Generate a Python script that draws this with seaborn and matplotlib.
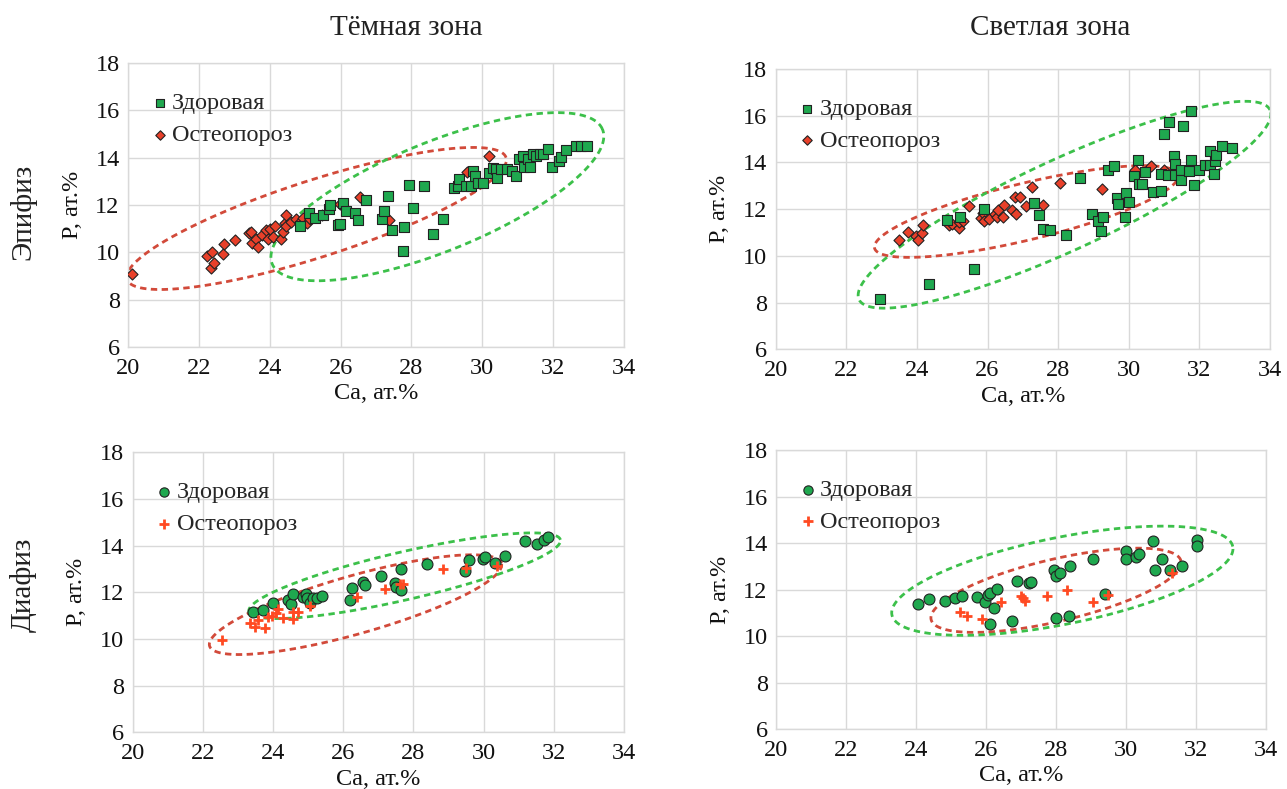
import numpy as np
import pandas as pd
import matplotlib
matplotlib.use("Agg")
import matplotlib.pyplot as plt
import seaborn as sns

# ---------------- data ----------------
# Epiphysis, dark zone
epi_dark_h_ca = [24.85, 25.11, 25.27, 25.5, 25.67, 25.71, 25.92, 25.97, 26.08, 26.16, 26.4, 26.49, 26.72,
                 27.17, 27.21, 27.34, 27.45, 27.76, 27.78, 27.94, 28.04, 28.34, 28.6, 28.9, 29.19, 29.3,
                 29.35, 29.54, 29.68, 29.75, 29.8, 29.87, 30.01, 30.2, 30.29, 30.38, 30.41, 30.52, 30.69,
                 30.85, 30.95, 31.04, 31.14, 31.18, 31.3, 31.34, 31.42, 31.51, 31.62, 31.72, 31.84, 31.96,
                 32.15, 32.22, 32.36, 32.64, 32.78, 32.94]
epi_dark_h_p = [11.11, 11.68, 11.46, 11.56, 11.82, 11.99, 11.15, 11.18, 12.1, 11.75, 11.68, 11.35, 12.21,
                11.39, 11.75, 12.38, 10.94, 10.06, 11.08, 12.85, 11.86, 12.8, 10.76, 11.39, 12.7, 12.8,
                13.08, 12.8, 12.8, 13.44, 13.23, 12.92, 12.92, 13.37, 13.58, 13.51, 13.15, 13.51, 13.51,
                13.44, 13.23, 13.93, 14.07, 13.62, 13.93, 13.62, 14.14, 14.07, 14.14, 14.14, 14.35, 13.62,
                13.86, 14.04, 14.31, 14.49, 14.49, 14.49]
epi_dark_o_ca = [20.1, 22.23, 22.36, 22.33, 22.43, 22.67, 22.7, 23.01, 23.42, 23.48, 23.51, 23.61, 23.67,
                 23.77, 23.88, 23.95, 24.0, 24.08, 24.14, 24.33, 24.36, 24.42, 24.45, 24.47, 24.61, 24.75,
                 24.85, 24.94, 25.06, 25.13, 25.46, 25.99, 26.55, 27.36, 29.56, 30.2]
epi_dark_o_p = [9.07, 9.85, 10.01, 9.35, 9.56, 9.94, 10.37, 10.52, 10.8, 10.86, 10.38, 10.58, 10.23,
                10.73, 10.94, 10.55, 10.97, 10.66, 11.11, 10.58, 10.86, 11.25, 11.58, 11.11, 11.3, 11.39,
                11.28, 11.46, 11.25, 11.39, 11.58, 12.03, 12.34, 11.38, 13.41, 14.07]

# Epiphysis, light zone
epi_light_h_ca = [22.96, 24.35, 25.63, 24.85, 25.22, 25.89, 27.32, 27.46, 27.56, 27.77, 28.21, 28.62, 28.97,
                  29.14, 29.2, 29.28, 29.42, 29.59, 29.68, 29.69, 29.88, 29.91, 30.0, 30.16, 30.27, 30.3,
                  30.38, 30.45, 30.68, 30.92, 30.9, 30.99, 31.15, 31.27, 31.3, 31.11, 31.32, 31.49, 31.49,
                  31.54, 31.7, 31.75, 31.76, 31.84, 31.98, 32.17, 32.31, 32.31, 32.41, 32.44, 32.48, 32.64,
                  32.92]
epi_light_h_p = [8.17, 8.8, 9.44, 11.55, 11.66, 12.02, 12.26, 11.76, 11.15, 11.09, 10.88, 13.32, 11.81,
                 11.48, 11.05, 11.65, 13.69, 13.83, 12.48, 12.23, 11.66, 12.69, 12.3, 13.43, 14.09, 13.07,
                 13.07, 13.57, 12.73, 12.76, 13.5, 15.23, 15.72, 14.26, 13.94, 13.47, 13.47, 13.69, 13.23,
                 15.57, 13.62, 14.11, 16.21, 13.02, 13.66, 13.9, 13.9, 14.51, 13.5, 14.07, 14.3, 14.71,
                 14.64]
epi_light_o_ca = [23.49, 23.74, 23.98, 24.02, 24.15, 24.17, 24.92, 24.98, 25.2, 25.2, 25.31, 25.48, 25.81,
                  25.86, 25.91, 26.03, 26.22, 26.26, 26.31, 26.43, 26.48, 26.69, 26.82, 26.78, 26.92, 27.08,
                  27.25, 27.57, 28.05, 29.25, 30.19, 30.64, 30.99]
epi_light_o_p = [10.67, 11.02, 10.87, 10.7, 10.98, 11.31, 11.31, 11.38, 11.19, 11.45, 11.51, 12.15, 11.62,
                 11.83, 11.48, 11.59, 11.79, 11.66, 11.95, 11.65, 12.16, 11.95, 11.81, 12.52, 12.52, 12.15,
                 12.93, 12.19, 13.12, 12.87, 13.69, 13.83, 13.69]

# Diaphysis, dark zone
dia_dark_h_ca = [23.44, 23.71, 24.01, 24.44, 24.5, 24.56, 24.85, 24.94, 24.96, 25.06, 25.15, 25.26, 25.39,
                 26.19, 26.24, 26.55, 26.62, 27.08, 27.47, 27.5, 27.64, 27.65, 28.39, 29.47, 29.59, 29.97,
                 30.04, 30.32, 30.62, 31.17, 31.53, 31.72, 31.84]
dia_dark_h_p = [11.17, 11.24, 11.53, 11.67, 11.49, 11.93, 11.81, 11.93, 11.77, 11.53, 11.74, 11.77, 11.86,
                11.67, 12.2, 12.46, 12.31, 12.7, 12.41, 12.24, 12.1, 13.0, 13.21, 12.91, 13.39, 13.43,
                13.5, 13.24, 13.56, 14.2, 14.06, 14.24, 14.39]
dia_dark_o_ca = [22.54, 23.35, 23.49, 23.58, 23.76, 23.87, 23.96, 24.08, 24.15, 24.27, 24.58, 24.58, 24.72,
                 25.05, 26.4, 27.19, 27.62, 27.69, 28.83, 29.49, 30.37]
dia_dark_o_p = [9.96, 10.67, 10.53, 10.81, 10.46, 10.96, 11.0, 11.1, 11.27, 10.89, 10.84, 11.17, 11.17,
                11.41, 11.81, 12.14, 12.36, 12.36, 12.99, 13.03, 13.13]

# Diaphysis, light zone
dia_light_h_ca = [24.06, 24.36, 24.84, 25.1, 25.3, 25.73, 25.97, 26.05, 26.11, 26.11, 26.24, 26.3, 26.74,
                  26.89, 27.24, 27.29, 27.93, 28.0, 28.1, 28.0, 28.36, 28.4, 29.05, 29.41, 30.0, 30.0,
                  30.29, 30.36, 30.76, 30.84, 31.02, 31.26, 31.59, 32.02, 32.02]
dia_light_h_p = [11.37, 11.6, 11.5, 11.63, 11.73, 11.67, 11.48, 11.77, 11.87, 10.52, 11.22, 12.04, 10.66,
                 12.37, 12.27, 12.32, 12.85, 12.59, 12.71, 10.79, 10.86, 13.02, 13.31, 11.81, 13.67, 13.32,
                 13.42, 13.54, 14.07, 12.85, 13.32, 12.85, 13.02, 14.12, 13.88]
dia_light_o_ca = [25.26, 25.46, 25.88, 26.43, 27.0, 27.05, 27.11, 27.74, 28.31, 29.07, 29.48, 31.3]
dia_light_o_p = [11.05, 10.86, 10.72, 11.48, 11.74, 11.63, 11.51, 11.73, 11.99, 11.45, 11.76, 12.71]

# hand-drawn group ellipses: centre (Ca, P) and two conjugate half-axes (data units)
ell_epi_dark_o = [25.32, 11.43, 5.35, 2.57, -0.32, 1.55]
ell_epi_dark_h = [28.73, 12.35, 4.66, 2.85, -0.60, 2.12]
ell_epi_light_o = [27.10, 11.90, 4.30, 1.57, -0.19, 1.18]
ell_epi_light_h = [28.18, 12.19, 5.82, 4.06, -0.54, 1.77]
ell_dia_dark_o = [26.35, 11.47, 4.16, 1.77, -0.225, 1.20]
ell_dia_dark_h = [27.75, 12.71, 4.44, 1.54, -0.153, 1.00]
ell_dia_light_o = [28.00, 11.97, 3.57, 1.26, -0.20, 1.30]
ell_dia_light_h = [28.18, 12.38, 4.87, 1.47, -0.244, 1.83]

x_ticks = [20, 22, 24, 26, 28, 30, 32, 34]
y_ticks = [6, 8, 10, 12, 14, 16, 18]
col_titles = ["Тёмная зона", "Светлая зона"]
row_titles = ["Эпифиз", "Диафиз"]
lbl_h = "Здоровая"
lbl_o = "Остеопороз"

# ---------------- style ----------------
sns.set_theme(style="white")
plt.rcParams['font.family'] = ['Liberation Serif', 'DejaVu Serif']

GREEN = "#1fa84f"
RED = "#e8402a"
PLUS = "#ff4a22"
ELL_G = "#3cc04a"
ELL_R = "#d24a3a"
GRID = "#d9d9d9"

fig = plt.figure(figsize=(12.87, 7.89), dpi=100)

rects = [
    [0.0995, 0.5602, 0.3854, 0.3600],
    [0.6027, 0.5573, 0.3841, 0.3552],
    [0.1031, 0.0719, 0.3817, 0.3548],
    [0.6030, 0.0758, 0.3807, 0.3539],
]

panels = [
    (epi_dark_h_ca, epi_dark_h_p, epi_dark_o_ca, epi_dark_o_p, ell_epi_dark_h, ell_epi_dark_o, 'epi'),
    (epi_light_h_ca, epi_light_h_p, epi_light_o_ca, epi_light_o_p, ell_epi_light_h, ell_epi_light_o, 'epi'),
    (dia_dark_h_ca, dia_dark_h_p, dia_dark_o_ca, dia_dark_o_p, ell_dia_dark_h, ell_dia_dark_o, 'dia'),
    (dia_light_h_ca, dia_light_h_p, dia_light_o_ca, dia_light_o_p, ell_dia_light_h, ell_dia_light_o, 'dia'),
]


def draw_ellipse(ax, e, color):
    t = np.linspace(0, 2 * np.pi, 300)
    cx, cy, ux, uy, vx, vy = e
    xs = cx + ux * np.cos(t) + vx * np.sin(t)
    ys = cy + uy * np.cos(t) + vy * np.sin(t)
    ax.plot(xs, ys, color=color, lw=2.0, linestyle=(0, (2.3, 1.6)), zorder=2,
            dash_capstyle='butt')


for rect, (hx, hy, ox, oy, eh, eo, kind) in zip(rects, panels):
    ax = fig.add_axes(rect)
    draw_ellipse(ax, eo, ELL_R)
    draw_ellipse(ax, eh, ELL_G)
    dfh = pd.DataFrame({"Ca": hx, "P": hy})
    dfo = pd.DataFrame({"Ca": ox, "P": oy})
    if kind == 'epi':
        sns.scatterplot(data=dfo, x="Ca", y="P", ax=ax, marker='D', s=32, color=RED,
                        edgecolor='#222222', linewidth=0.8, label=lbl_o, zorder=3)
        sns.scatterplot(data=dfh, x="Ca", y="P", ax=ax, marker='s', s=58, color=GREEN,
                        edgecolor='#222222', linewidth=0.8, label=lbl_h, zorder=4)
    else:
        sns.scatterplot(data=dfh, x="Ca", y="P", ax=ax, marker='o', s=62, color=GREEN,
                        edgecolor='#222222', linewidth=0.8, label=lbl_h, zorder=3)
        sns.scatterplot(data=dfo, x="Ca", y="P", ax=ax, marker='+', s=60, color=PLUS,
                        linewidth=2.0, label=lbl_o, zorder=4)
    ax.set_xlim(20, 34)
    ax.set_ylim(6, 18)
    ax.set_xticks(x_ticks)
    ax.set_yticks(y_ticks)
    ax.grid(True, color=GRID, lw=1.0, zorder=0)
    ax.set_axisbelow(True)
    for sp in ax.spines.values():
        sp.set_color(GRID)
        sp.set_linewidth(1.0)
    ax.tick_params(axis='both', labelsize=17.5, length=0, colors='#111111')
    ax.tick_params(axis='x', pad=8)
    ax.tick_params(axis='y', pad=6)
    ax.set_xlabel("Ca, ат.%", fontsize=17.5, labelpad=3, color='#111111')
    ax.set_ylabel("P, ат.%", fontsize=17.5, labelpad=9, color='#111111')
    handles, labels = ax.get_legend_handles_labels()
    order = [labels.index(lbl_h), labels.index(lbl_o)]
    ax.legend([handles[i] for i in order], [labels[i] for i in order],
              loc='upper left', bbox_to_anchor=(0.02, 0.94), frameon=False,
              fontsize=17.5, handletextpad=0.1, handlelength=0.8, borderpad=0.0,
              labelspacing=0.4, markerscale=0.85)

fig.text(0.316, 0.964, col_titles[0], ha='center', va='center', fontsize=21, color='#222222')
fig.text(0.816, 0.964, col_titles[1], ha='center', va='center', fontsize=21, color='#222222')
fig.text(0.018, 0.732, row_titles[0], ha='center', va='center', rotation=90, fontsize=21, color='#222222')
fig.text(0.018, 0.259, row_titles[1], ha='center', va='center', rotation=90, fontsize=21, color='#222222')

fig.savefig("out.png", dpi=100)
